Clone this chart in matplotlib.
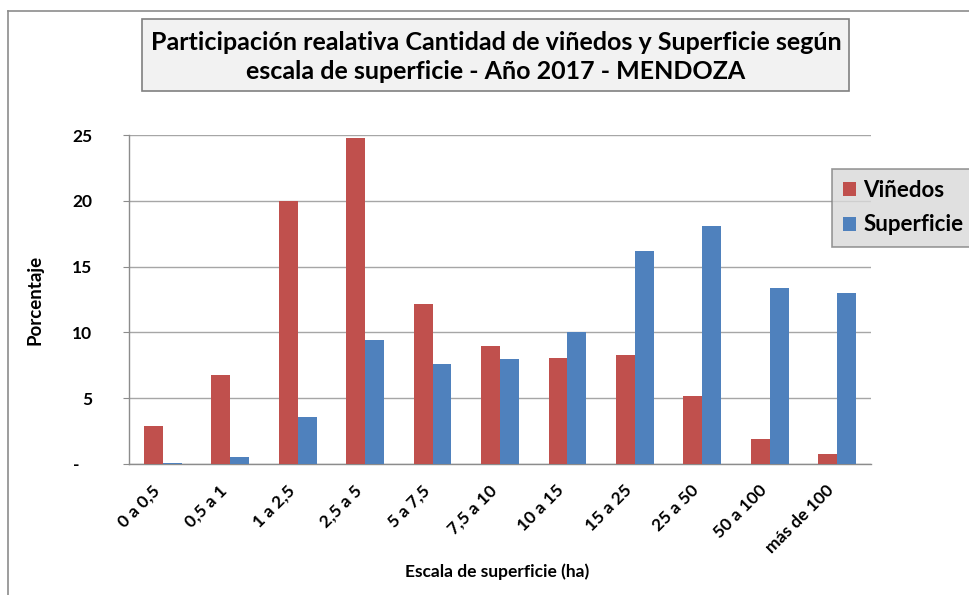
import numpy as np
import matplotlib
matplotlib.use('Agg')
import matplotlib.pyplot as plt
from matplotlib.patches import FancyBboxPatch
from matplotlib.lines import Line2D

plt.rcParams['font.family'] = ['Lato', 'DejaVu Sans']

escalas = ['0 a 0,5', '0,5 a 1', '1 a 2,5', '2,5 a 5', '5 a 7,5', '7,5 a 10',
           '10 a 15', '15 a 25', '25 a 50', '50 a 100', 'más de 100']
vinedos = [2.9, 6.8, 20.0, 24.75, 12.15, 8.95, 8.05, 8.25, 5.2, 1.9, 0.75]
superficie = [0.1, 0.5, 3.6, 9.4, 7.6, 7.95, 10.05, 16.15, 18.1, 13.4, 13.0]
yticks = [0, 5, 10, 15, 20, 25]
ytick_labels = ['-   ', '5', '10', '15', '20', '25']

W, H = 969, 595
fig = plt.figure(figsize=(W / 100, H / 100), dpi=100)
ax = fig.add_axes([129 / W, 1 - 464 / H, 742 / W, 329 / H])

x = np.arange(len(escalas))
bw = 0.28
ax.bar(x - bw / 2, vinedos, bw, color='#C0504D', label='Viñedos', zorder=3)
ax.bar(x + bw / 2, superficie, bw, color='#4F81BD', label='Superficie', zorder=3)

ax.set_xlim(-0.5, len(escalas) - 0.5)
ax.set_ylim(0, 25)
ax.set_yticks(yticks)
ax.set_yticklabels(ytick_labels, fontsize=12.5, fontweight='bold')
ax.set_xticks(x)
ax.set_xticklabels(escalas, fontsize=12.5, fontweight='bold', rotation=45,
                   ha='right', va='top')
ax.tick_params(axis='y', length=4.5, color='#8c8c8c', pad=22)
ax.tick_params(axis='x', length=0, pad=13)
ax.grid(axis='y', color='#a6a6a6', linewidth=1, zorder=0)
for s in ['top', 'right']:
    ax.spines[s].set_visible(False)
for s in ['left', 'bottom']:
    ax.spines[s].set_color('#8c8c8c')
    ax.spines[s].set_linewidth(1)

fig.text(35 / W, 1 - 300 / H, 'Porcentaje', rotation=90, ha='center', va='center',
         fontsize=13.5, fontweight='bold')
fig.text(497 / W, 1 - 572 / H, 'Escala de superficie (ha)', ha='center', va='center',
         fontsize=12.5, fontweight='bold')

# title box
fig.patches.append(FancyBboxPatch((142 / W, 1 - 91 / H), 707 / W, 72 / H,
                                  boxstyle='square,pad=0', transform=fig.transFigure,
                                  facecolor='#f2f2f2', edgecolor='#808080', linewidth=1.2))
fig.text(496 / W, 1 - 57 / H,
         'Participación realativa Cantidad de viñedos y Superficie según\nescala de superficie - Año 2017 - MENDOZA',
         ha='center', va='center', fontsize=18, fontweight='bold', linespacing=1.35)

# outer frame
fig.lines.append(Line2D([8 / W, 8 / W], [0, 1 - 11 / H], transform=fig.transFigure,
                        color='#8c8c8c', linewidth=1.2))
fig.lines.append(Line2D([8 / W, 1], [1 - 11 / H, 1 - 11 / H], transform=fig.transFigure,
                        color='#8c8c8c', linewidth=1.2))

leg = fig.legend(loc='upper left', bbox_to_anchor=(832 / W, 1 - 169 / H),
                 prop={'weight': 'bold', 'size': 16}, frameon=True, fancybox=False,
                 borderaxespad=0, handlelength=0.6, handleheight=0.6, handletextpad=0.3,
                 labelspacing=0.6, borderpad=0.5)
leg.get_frame().set_facecolor('#d9d9d9')
leg.get_frame().set_edgecolor('#808080')
leg.get_frame().set_linewidth(1.2)

fig.savefig('out.png', dpi=100)
